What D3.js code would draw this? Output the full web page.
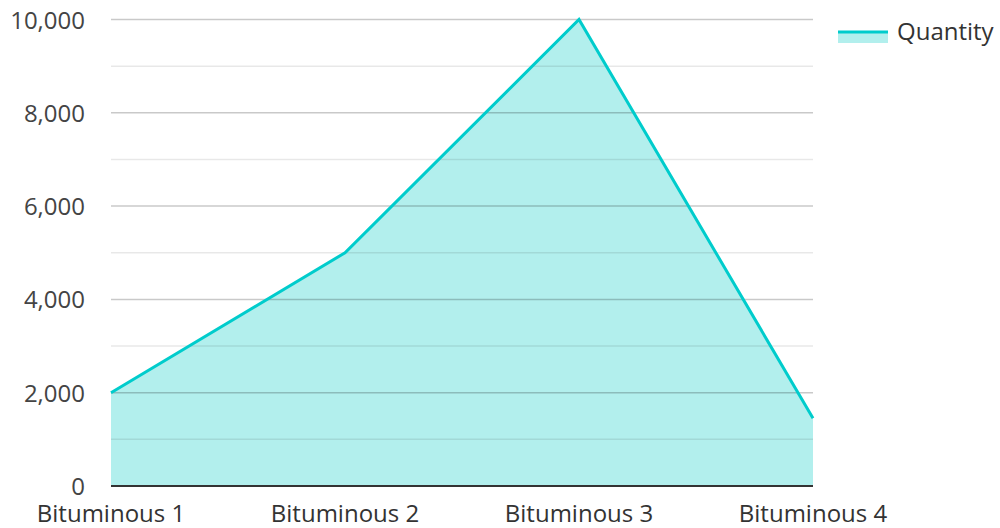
<!DOCTYPE html>
<html>
<head>
<meta charset="utf-8">
<script src="https://cdn.jsdelivr.net/npm/d3@7"></script>
<style>
  body { margin: 0; background: #fff; }
  text { font-family: "Open Sans", "Noto Sans", sans-serif; }
</style>
</head>
<body>
<svg id="chart" width="1000" height="528"></svg>
<script>
// data
const categories = ["Bituminous 1", "Bituminous 2", "Bituminous 3", "Bituminous 4"];
const quantity = [2000, 5000, 10000, 1450];
const seriesName = "Quantity";
const yTicks = [0, 2000, 4000, 6000, 8000, 10000];
const yMinorTicks = [1000, 3000, 5000, 7000, 9000];

const svg = d3.select("#chart");
const margin = {left: 111, right: 187, top: 19.5, bottom: 42};
const W = 1000, H = 528;

const x = d3.scalePoint().domain(categories).range([margin.left, W - margin.right]);
const y = d3.scaleLinear().domain([0, 10000]).range([H - margin.bottom, margin.top]);

const rows = categories.map((c, i) => ({c: c, v: quantity[i]}));

// area fill
const area = d3.area().x(d => x(d.c)).y0(y(0)).y1(d => y(d.v));
svg.append("path").datum(rows).attr("d", area).attr("fill", "#b2efed");

// grid lines (drawn over the fill)
svg.append("g").selectAll("line").data(yMinorTicks).join("line")
  .attr("x1", margin.left).attr("x2", W - margin.right)
  .attr("y1", d => y(d)).attr("y2", d => y(d))
  .attr("stroke", "#000").attr("stroke-opacity", 0.09).attr("stroke-width", 1.5);
svg.append("g").selectAll("line").data(yTicks.filter(d => d > 0)).join("line")
  .attr("x1", margin.left).attr("x2", W - margin.right)
  .attr("y1", d => y(d)).attr("y2", d => y(d))
  .attr("stroke", "#000").attr("stroke-opacity", 0.21).attr("stroke-width", 1.5);

// line
const line = d3.line().x(d => x(d.c)).y(d => y(d.v));
svg.append("path").datum(rows).attr("d", line)
  .attr("fill", "none").attr("stroke", "#00cccc").attr("stroke-width", 3);

// baseline
svg.append("line")
  .attr("x1", margin.left).attr("x2", W - margin.right)
  .attr("y1", y(0)).attr("y2", y(0))
  .attr("stroke", "#333").attr("stroke-width", 2);

// y axis labels
const fmt = d3.format(",");
svg.append("g").selectAll("text").data(yTicks).join("text")
  .attr("x", 85).attr("y", d => y(d) + 9)
  .attr("text-anchor", "end")
  .attr("font-size", 24).attr("fill", "#444")
  .text(d => fmt(d));

// x axis labels
svg.append("g").selectAll("text").data(categories).join("text")
  .attr("x", d => x(d)).attr("y", 522)
  .attr("text-anchor", "middle")
  .attr("font-size", 24).attr("fill", "#333")
  .text(d => d);

// legend
const lg = svg.append("g");
lg.append("rect").attr("x", 838).attr("y", 31).attr("width", 50).attr("height", 12).attr("fill", "#b2efed");
lg.append("line").attr("x1", 838).attr("x2", 888).attr("y1", 32).attr("y2", 32)
  .attr("stroke", "#00cccc").attr("stroke-width", 3);
lg.append("text").attr("x", 897).attr("y", 40)
  .attr("font-size", 24).attr("fill", "#333").text(seriesName);
</script>
</body>
</html>
